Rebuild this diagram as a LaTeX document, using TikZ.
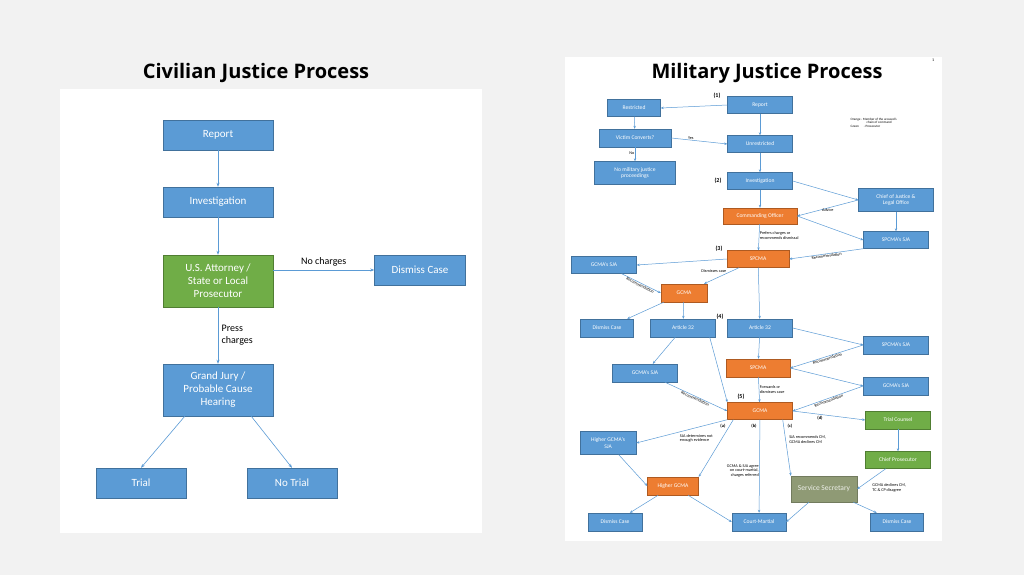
\documentclass[tikz,border=0pt]{standalone}
\usepackage{fontspec}
\setmainfont{Carlito}
\newfontfamily\titlefont{Open Sans}
\usetikzlibrary{arrows.meta}
\definecolor{boxblue}{HTML}{5B9BD5}
\definecolor{boxedge}{HTML}{41719C}
\definecolor{boxorange}{HTML}{ED7D31}
\definecolor{orangeedge}{HTML}{AE5A21}
\definecolor{boxgreen}{HTML}{70AD47}
\definecolor{greenedge}{HTML}{507E32}
\definecolor{secgreen}{HTML}{8F9A75}
\definecolor{arrowblue}{HTML}{5B9BD5}
\begin{document}
\begin{tikzpicture}[x=1pt,y=-1pt,
  civ/.style={draw=boxedge,fill=boxblue,text=white,minimum width=110pt,minimum height=30pt,inner sep=1pt,align=center,font=\fontsize{11}{13}\selectfont},
  mil/.style={draw=boxedge,fill=boxblue,text=white,minimum width=65pt,minimum height=17pt,inner sep=1pt,align=center,font=\fontsize{5.6}{6.4}\selectfont},
  orng/.style={fill=boxorange,draw=orangeedge},
  grn/.style={fill=boxgreen,draw=greenedge},
  lnk/.style={draw=arrowblue,-{Stealth[length=4pt,width=3pt]},line width=0.6pt},
  mlnk/.style={draw=arrowblue,-{Stealth[length=3pt,width=2.4pt]},line width=0.5pt},
  lbl/.style={font=\fontsize{4.2}{4.8}\selectfont,align=left,inner sep=0.5pt},
  num/.style={font=\bfseries\fontsize{6}{7}\selectfont,inner sep=0pt}]
\fill[black!5] (0,0) rectangle (1024,575);
\useasboundingbox (0,0) rectangle (1024,575);
\fill[white] (60,89) rectangle (482,533);
\fill[white] (565,57) rectangle (942,541);
\node[font=\titlefont\bfseries\fontsize{20}{24}\selectfont] (tciv) at (256,73) {Civilian Justice Process};
\node[font=\titlefont\bfseries\fontsize{20}{24}\selectfont] (tmil) at (767,73) {Military Justice Process};
\node[font=\fontsize{4}{4}\selectfont] (pg) at (933,60) {1};

% civilian
\node[civ] (report) at (218,135) {Report};
\node[civ] (invest) at (218,202) {Investigation};
\node[civ,fill=boxgreen,draw=greenedge,minimum height=52pt] (attorney) at (218,281) {U.S. Attorney /\\State or Local\\Prosecutor};
\node[civ,minimum width=91pt] (dismiss) at (420,270) {Dismiss Case};
\node[civ,minimum height=52pt] (grand) at (218,390) {Grand Jury /\\Probable Cause\\Hearing};
\node[civ,minimum width=90pt] (trial) at (141,483) {Trial};
\node[civ,minimum width=90pt] (notrial) at (292,483) {No Trial};
\draw[lnk] (report) -- (invest);
\draw[lnk] (invest) -- (attorney);
\draw[lnk] (attorney.east |- dismiss) -- node[above,font=\fontsize{10}{12}\selectfont]{No charges} (dismiss);
\draw[lnk] (attorney) -- node[right,align=left,font=\fontsize{10}{12}\selectfont]{Press\\charges} (grand);
\draw[lnk] (grand.south west) ++(22,0) coordinate (g1) (g1) -- (trial.north);
\draw[lnk] (grand.south east) ++(-22,0) coordinate (g2) (g2) -- (notrial.north);

% military
\node[mil] (mreport) at (760,105) {Report};
\node[mil,minimum width=53pt] (restr) at (634,108) {Restricted};
\node[mil,minimum width=72pt,minimum height=18pt] (victim) at (635,138) {Victim Converts?};
\node[mil] (unrestr) at (760,144) {Unrestricted};
\node[mil,minimum width=81pt,minimum height=23pt] (nomil) at (635,173) {No military justice\\proceedings};
\node[mil] (minvest) at (760,181) {Investigation};
\node[mil,minimum width=75pt,minimum height=23pt] (chief) at (896,200) {Chief of Justice \&\\Legal Office};
\node[mil,orng,minimum width=74pt,minimum height=16pt] (co) at (760,216) {Commanding Officer};
\node[mil] (spsja) at (896,240) {SPCMA's SJA};
\node[mil,orng,minimum width=62pt] (spcma) at (758,259) {SPCMA};
\node[mil] (gsja) at (604,265) {GCMA's SJA};
\node[mil,orng,minimum width=46pt,minimum height=18pt] (gcma) at (684,293) {GCMA};
\node[mil,minimum width=53pt,minimum height=18pt] (dismissa) at (607,328) {Dismiss Case};
\node[mil,minimum height=18pt] (arta) at (683,328) {Article 32};
\node[mil,minimum height=18pt] (artb) at (760,328) {Article 32};
\node[mil,minimum height=18pt] (spsjab) at (896,345) {SPCMA's SJA};
\node[mil,orng,minimum width=64pt,minimum height=18pt] (spcmab) at (758,368) {SPCMA};
\node[mil,minimum height=18pt] (gsjab) at (645,373) {GCMA's SJA};
\node[mil,minimum height=18pt] (gsjac) at (896,386) {GCMA's SJA};
\node[mil,orng] (gcmab) at (760,411) {GCMA};
\node[mil,grn,minimum height=18pt] (tcounsel) at (898,420) {Trial Counsel};
\node[mil,minimum width=56pt,minimum height=23pt] (hsja) at (608,443) {Higher GCMA's\\SJA};
\node[mil,grn,minimum height=17pt] (cpros) at (898,460) {Chief Prosecutor};
\node[mil,orng,minimum width=51pt,minimum height=18pt] (hgcma) at (673,486) {Higher GCMA};
\node[mil,fill=secgreen,draw=secgreen!80!black,minimum width=66pt,minimum height=26pt,text=white!85!secgreen,font=\fontsize{7.5}{8}\selectfont] (secr) at (824,489) {Service Secretary};
\node[mil,minimum width=54pt,minimum height=18pt] (dismissb) at (615,522) {Dismiss Case};
\node[mil,minimum width=54pt,minimum height=18pt] (cmart) at (759,522) {Court-Martial};
\node[mil,minimum width=53pt,minimum height=18pt] (dismissc) at (897,522) {Dismiss Case};

\node[num] (n1) at (717,96) {(1)};
\node[num] (n2) at (718,181) {(2)};
\node[num] (n3) at (719,249) {(3)};
\node[num] (n4) at (720,317) {(4)};
\node[num] (n5) at (741,397) {(5)};
\node[num,font=\bfseries\fontsize{4.5}{5}\selectfont] (na) at (723,426) {(a)};
\node[num,font=\bfseries\fontsize{4.5}{5}\selectfont] (nb) at (754,426) {(b)};
\node[num,font=\bfseries\fontsize{4.5}{5}\selectfont] (nc) at (790,426) {(c)};
\node[num,font=\bfseries\fontsize{4.5}{5}\selectfont] (nd) at (820,418) {(d)};
\node[lbl,font=\fontsize{3.3}{3.6}\selectfont,anchor=north west] (legend) at (850,117) {Orange - Member of the accused's\\\hspace{16pt}chain of command\\Green\hspace{5pt}- Prosecutor};

\draw[mlnk] (mreport.west) -- (restr.east);
\draw[mlnk] (mreport) -- (unrestr);
\draw[mlnk] (restr) -- (victim);
\draw[mlnk] (victim.east) -- node[lbl,above,pos=0.35]{Yes} (unrestr.west);
\draw[mlnk] (victim) -- node[lbl,left,pos=0.45]{No} (nomil);
\draw[mlnk] (unrestr) -- (minvest);
\draw[mlnk] (minvest.east) -- (chief.west);
\draw[mlnk] (minvest) -- (co);
\draw[mlnk] (chief.west) -- node[lbl,below]{Advice} (co.east);
\draw[mlnk] (chief) -- (spsja);
\draw[mlnk] (co.east) -- (spsja.west);
\draw[mlnk] (co) -- node[lbl,right,pos=0.45]{Prefers charges or\\recommends dismissal} (spcma);
\draw[mlnk] (spsja.south west) -- node[lbl,below,sloped]{Recommendation} (spcma.east);
\draw[mlnk] (spcma.west) -- (gsja.east);
\draw[mlnk] (spcma) -- node[lbl,pos=0.2,left=5pt]{Dismisses case} (gcma);
\draw[mlnk] (gsja) -- node[lbl,below,sloped]{Recommendation} (gcma.west);
\draw[mlnk] (gcma) -- (dismissa);
\draw[mlnk] (gcma) -- (arta);
\draw[mlnk] (spcma) -- (artb);
\draw[mlnk] (artb.east) -- (spsjab.west);
\draw[mlnk] (artb) -- (spcmab);
\draw[mlnk] (spsjab.west) -- node[lbl,below,sloped]{Recommendation} (spcmab.east);
\draw[mlnk] (arta) -- (gsjab);
\draw[mlnk] (arta.south east) ++(-6,0) coordinate (a1) (a1) -- (gcmab.north west);
\draw[mlnk] (gsjab) -- node[lbl,below,sloped]{Recommendation} (gcmab.west);
\draw[mlnk] (spcmab.east) -- (gsjac.west);
\draw[mlnk] (spcmab) -- node[lbl,right]{Forwards or\\dismisses case} (gcmab);
\draw[mlnk] (gsjac.west) -- node[lbl,below,sloped]{Recommendation} (gcmab.east);
\draw[mlnk] (gcmab.east) -- (tcounsel.west);
\draw[mlnk] (gcmab.south west) -- node[lbl,pos=0.55,below right,xshift=2pt,yshift=-1pt]{SJA determines not\\enough evidence} (hsja.east);
\draw[mlnk] (gcmab.south west) ++(6,0) coordinate (b1) (b1) -- (hgcma.north east);
\draw[mlnk] (gcmab) -- node[lbl,pos=0.55,left,align=right]{GCMA \& SJA agree\\on court-martial,\\charges referred} (cmart);
\draw[mlnk] (gcmab.south east) ++(-10,0) coordinate (c1) (c1) -- node[lbl,pos=0.35,right=3pt]{SJA recommends CM,\\GCMA declines CM} (secr.north west);
\draw[mlnk] (tcounsel) -- (cpros);
\draw[mlnk] (cpros) -- node[lbl,pos=0.6,below right,xshift=3pt,yshift=-2pt]{GCMA declines CM,\\TC \& CP disagree} (secr.east);
\draw[mlnk] (hsja) -- (hgcma.west);
\draw[mlnk] (hgcma) -- (dismissb);
\draw[mlnk] (hgcma) -- (cmart.west);
\draw[mlnk] (secr) -- (cmart.east);
\draw[mlnk] (secr) -- (dismissc);
\end{tikzpicture}
\end{document}
